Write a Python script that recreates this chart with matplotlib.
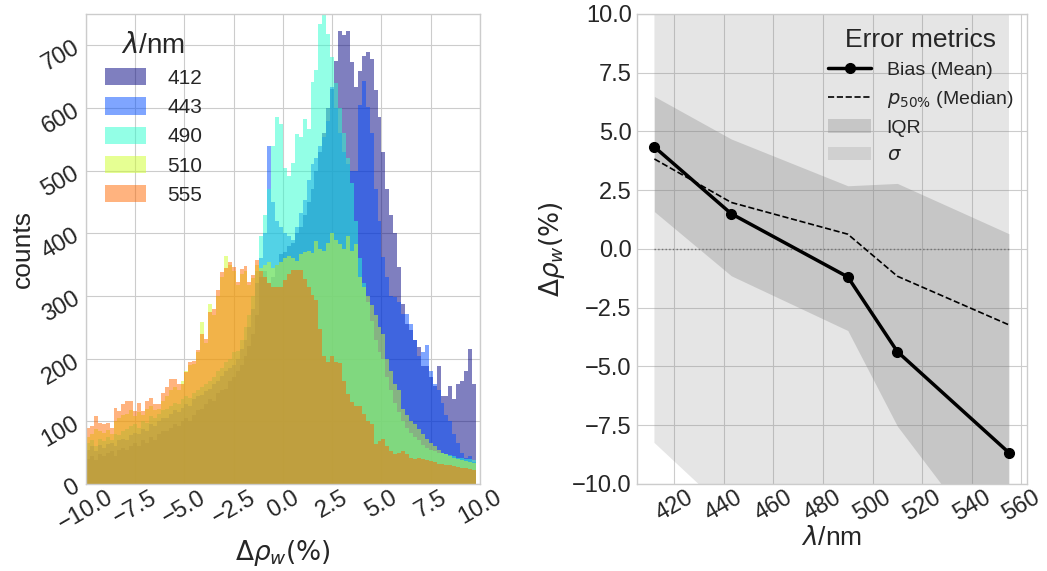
import numpy as np
import matplotlib
matplotlib.use("Agg")
import matplotlib.pyplot as plt
from matplotlib.ticker import MultipleLocator

plt.style.use("seaborn-v0_8-whitegrid")
plt.rcParams["font.family"] = ["Liberation Sans", "DejaVu Sans"]

# --- Left panel: histogram counts per 0.2 % bin (-10 ... 9.8)
bin_edges = np.round(np.arange(-10.0, 9.81, 0.2), 2)
band_labels = ["412", "443", "490", "510", "555"]

counts_412 = [40, 45, 38, 48, 44, 50, 52, 45, 55, 58,
              55, 60, 65, 60, 70, 66, 75, 70, 80, 85,
              85, 90, 95, 92, 100, 105, 100, 110, 118, 120,
              128, 135, 132, 145, 150, 152, 165, 170, 180, 190,
              205, 220, 240, 270, 330, 340, 320, 330, 350, 367,
              370, 380, 385, 400, 410, 430, 450, 470, 500, 530,
              560, 600, 630, 675, 723, 716, 723, 673, 633, 659,
              683, 689, 678, 628, 585, 529, 470, 430, 400, 346,
              287, 255, 245, 230, 218, 189, 189, 170, 157, 189,
              141, 141, 157, 136, 160, 165, 181, 215, 160]
counts_443 = [55, 60, 52, 62, 58, 64, 66, 60, 70, 72,
              70, 78, 82, 80, 88, 85, 95, 92, 100, 105,
              105, 112, 118, 115, 122, 128, 125, 135, 140, 142,
              148, 152, 160, 165, 172, 180, 185, 190, 200, 215,
              230, 250, 280, 320, 360, 400, 540, 450, 420, 410,
              400, 395, 390, 410, 432, 453, 485, 510, 520, 540,
              553, 580, 633, 600, 560, 530, 510, 500, 500, 605,
              643, 601, 560, 470, 420, 362, 330, 300, 298, 290,
              271, 271, 255, 230, 205, 210, 221, 180, 160, 150,
              130, 110, 100, 80, 65, 50, 42, 45, 35]
counts_490 = [65, 70, 60, 72, 68, 75, 70, 80, 78, 85,
              88, 92, 95, 90, 100, 98, 108, 105, 112, 118,
              120, 125, 130, 128, 135, 140, 138, 145, 150, 155,
              160, 165, 170, 180, 185, 195, 200, 210, 213, 230,
              250, 270, 300, 340, 395, 430, 470, 540, 585, 574,
              505, 491, 512, 558, 553, 582, 566, 641, 660, 734,
              750, 718, 681, 640, 600, 560, 520, 480, 420, 360,
              320, 290, 260, 230, 210, 200, 170, 150, 130, 115,
              100, 90, 82, 75, 70, 62, 58, 55, 52, 50,
              50, 48, 46, 44, 42, 42, 40, 40, 38]
counts_510 = [75, 80, 88, 85, 82, 86, 80, 100, 105, 110,
              112, 118, 108, 115, 110, 120, 125, 118, 120, 132,
              140, 150, 155, 150, 165, 181, 190, 192, 210, 258,
              225, 287, 270, 300, 330, 364, 350, 340, 318, 335,
              340, 318, 328, 350, 345, 350, 355, 345, 350, 355,
              360, 364, 360, 356, 367, 370, 372, 368, 388, 375,
              372, 385, 400, 390, 383, 375, 396, 372, 383, 330,
              314, 300, 285, 270, 250, 240, 200, 180, 160, 150,
              120, 110, 100, 95, 88, 80, 72, 65, 60, 55,
              50, 48, 45, 42, 40, 38, 36, 35, 33]
counts_555 = [89, 92, 109, 98, 96, 97, 90, 122, 117, 127,
              133, 132, 117, 130, 117, 132, 137, 128, 127, 145,
              154, 168, 168, 159, 160, 178, 195, 197, 214, 240,
              231, 275, 279, 309, 338, 345, 354, 346, 322, 343,
              348, 322, 333, 357, 340, 330, 320, 314, 314, 314,
              325, 335, 342, 342, 342, 327, 315, 301, 293, 247,
              205, 194, 205, 194, 193, 165, 144, 131, 125, 125,
              112, 101, 96, 64, 69, 72, 60, 52, 48, 50,
              53, 48, 42, 40, 42, 40, 38, 36, 35, 32,
              32, 30, 30, 28, 27, 26, 25, 24, 22]
hist_counts = [counts_412, counts_443, counts_490, counts_510, counts_555]

# --- Right panel: error metrics per band
wavelengths = [412, 443, 490, 510, 555]
bias_mean = [4.34, 1.50, -1.19, -4.37, -8.67]
median_p50 = [3.83, 1.98, 0.63, -1.16, -3.23]
iqr_low = [1.59, -1.14, -3.47, -7.54, -13.8]
iqr_high = [6.49, 4.68, 2.69, 2.79, 0.65]
sigma_low = [-8.25, -11.3, -14.7, -20.4, -28.7]
sigma_high = [17.0, 14.3, 12.3, 11.7, 11.4]

fig = plt.figure(figsize=(10.47, 5.71), dpi=100)
ax1 = fig.add_axes([0.0821, 0.1524, 0.3763, 0.8231])
ax2 = fig.add_axes([0.6081, 0.1524, 0.3725, 0.8231])

colors = plt.cm.jet([0.0, 0.2, 0.4, 0.6, 0.8])
centers = bin_edges[:-1] + 0.1
for counts, lab, c in zip(hist_counts, band_labels, colors):
    ax1.hist(centers, bins=bin_edges, weights=counts, histtype="stepfilled",
             color=c, alpha=0.5, lw=0, label=lab)

ax1.set_xlim(-10, 10)
ax1.set_ylim(0, 750)
ax1.set_xticks(np.arange(-10, 10.1, 2.5))
ax1.set_yticks(np.arange(0, 701, 100))
ax1.tick_params(axis="both", labelsize=17, labelrotation=30, pad=2)
ax1.set_xlabel(r"$\Delta\rho_w(\%)$", fontsize=19, labelpad=2)
ax1.set_ylabel("counts", fontsize=19, labelpad=2)
ax1.legend(title=r"$\lambda$/nm", loc="upper left", fontsize=15, title_fontsize=20,
           handlelength=2.0, handleheight=0.9, borderaxespad=0.5, labelspacing=0.45,
           handletextpad=1.0)

# right panel
sig = ax2.fill_between(wavelengths, sigma_low, sigma_high, color="0.5", alpha=0.2, lw=0)
iqr = ax2.fill_between(wavelengths, iqr_low, iqr_high, color="0.5", alpha=0.3, lw=0)
ax2.hlines(0, wavelengths[0], wavelengths[-1], colors="0.45", linestyles=":", lw=1)
bias_line, = ax2.plot(wavelengths, bias_mean, "k-o", lw=2.5, ms=7)
med_line, = ax2.plot(wavelengths, median_p50, "k--", lw=1.2)

ax2.set_ylim(-10, 10)
ax2.xaxis.set_major_locator(MultipleLocator(20))
ax2.tick_params(axis="y", labelsize=17)
ax2.tick_params(axis="x", labelsize=17, labelrotation=30, pad=2)
ax2.set_xlabel(r"$\lambda$/nm", fontsize=19, labelpad=0)
ax2.set_ylabel(r"$\Delta\rho_w(\%)$", fontsize=19)
ax2.legend([bias_line, med_line, iqr, sig],
           ["Bias (Mean)", r"$p_{50\%}$ (Median)", "IQR", r"$\sigma$"],
           title="Error metrics", loc="upper right", fontsize=14, title_fontsize=19,
           handlelength=2.2, labelspacing=0.5, borderaxespad=0.3)

fig.savefig("out.png", dpi=100)
